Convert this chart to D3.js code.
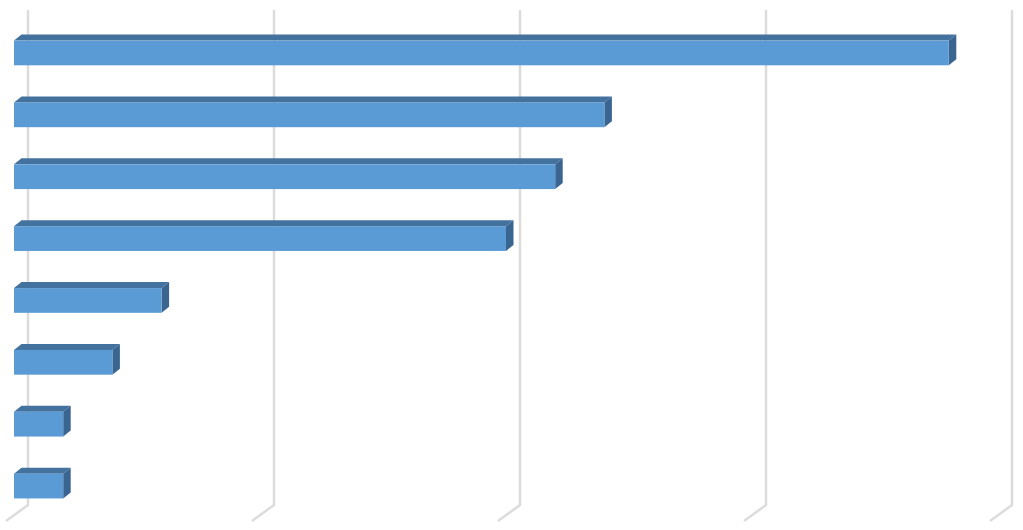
<!DOCTYPE html>
<html>
<head>
<meta charset="utf-8">
<script src="https://cdn.jsdelivr.net/npm/d3@7"></script>
<style>
  body { margin: 0; background: #fff; }
  svg { display: block; }
</style>
</head>
<body>
<div id="chart--wrap"></div>
<script>
// Data
const categories = ['Cat 1', 'Cat 2', 'Cat 3', 'Cat 4', 'Cat 5', 'Cat 6', 'Cat 7', 'Cat 8'];
const values = [19, 12, 11, 10, 3, 2, 1, 1];
const xTicks = [0, 5, 10, 15, 20];

const width = 1023;
const height = 530;

// 3D offsets: bar depth and floor depth (back wall -> front edge)
const barDepth = { dx: 7.5, dy: -6 };
const wallShift = 14;          // back wall relative to bar front face
const floorDepth = { dx: -22, dy: 16 };
const wallTop = 10;
const wallBottom = 505;

const svg = d3.select('#chart--wrap').append('svg')
  .attr('width', width)
  .attr('height', height);

// Scales (front face of bars)
const x = d3.scaleLinear().domain([0, 20]).range([14, 998]);
const y = d3.scaleBand()
  .domain(categories)
  .range([22, 517])
  .paddingInner(0.6)
  .paddingOuter(0.3);

// Grid lines on back wall + floor
const grid = svg.append('g').attr('class', 'grid');
grid.selectAll('path')
  .data(xTicks)
  .enter()
  .append('path')
  .attr('d', d => {
    const bx = x(d) + wallShift;
    return `M${bx},${wallTop}L${bx},${wallBottom}L${bx + floorDepth.dx},${wallBottom + floorDepth.dy}`;
  })
  .style('fill', 'none')
  .style('stroke', '#dcdcdc')
  .style('stroke-width', 2.5);

// Bars
const data = categories.map((c, i) => ({ cat: c, value: values[i] }));
const bars = svg.append('g').attr('class', 'bars')
  .selectAll('g')
  .data(data)
  .enter()
  .append('g');

const pts = a => a.map(p => p.join(',')).join(' ');

// top face
bars.append('polygon')
  .attr('points', d => {
    const x0 = x(0), x1 = x(d.value), y0 = y(d.cat);
    return pts([[x0, y0], [x0 + barDepth.dx, y0 + barDepth.dy],
      [x1 + barDepth.dx, y0 + barDepth.dy], [x1, y0]]);
  })
  .style('fill', '#44729f');

// side face
bars.append('polygon')
  .attr('points', d => {
    const x1 = x(d.value), y0 = y(d.cat), y1 = y0 + y.bandwidth();
    return pts([[x1, y0], [x1 + barDepth.dx, y0 + barDepth.dy],
      [x1 + barDepth.dx, y1 + barDepth.dy], [x1, y1]]);
  })
  .style('fill', '#3a6591');

// front face
bars.append('rect')
  .attr('x', x(0))
  .attr('y', d => y(d.cat))
  .attr('width', d => x(d.value) - x(0))
  .attr('height', y.bandwidth())
  .style('fill', '#5b9bd5');
</script>
</body>
</html>
